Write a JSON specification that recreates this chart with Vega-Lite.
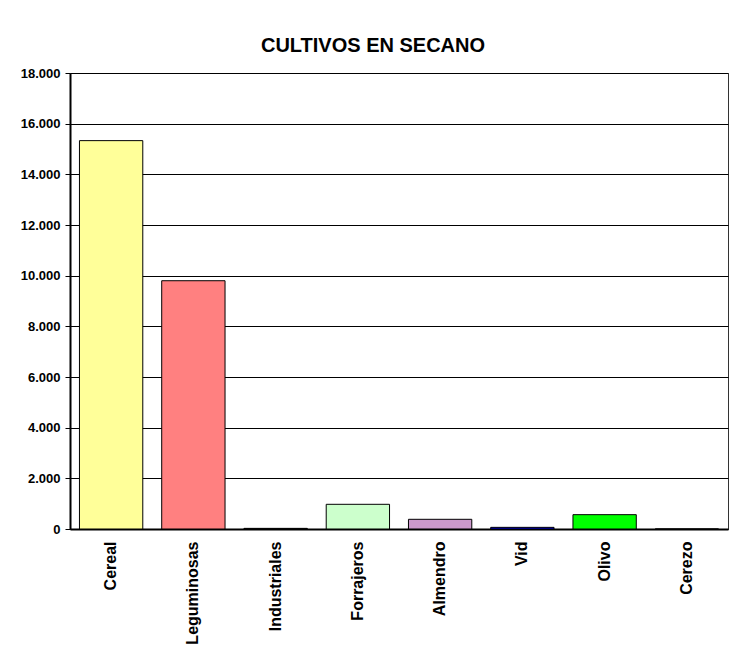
{
  "$schema": "https://vega.github.io/schema/vega-lite/v6.json",
  "width": 658,
  "height": 456,
  "autosize": {"type": "none"},
  "padding": {"left": 70, "top": 73, "right": 7, "bottom": 134},
  "background": "white",
  "title": {
    "text": "CULTIVOS EN SECANO",
    "font": "Liberation Sans",
    "fontSize": 20,
    "fontWeight": "bold",
    "color": "black",
    "anchor": "middle",
    "dx": -26,
    "offset": 11
  },
  "data": {
    "values": [
      {"cultivo": "Cereal", "superficie": 15330, "color": "#FFFF99"},
      {"cultivo": "Leguminosas", "superficie": 9800, "color": "#FF8080"},
      {"cultivo": "Industriales", "superficie": 25, "color": "#333333"},
      {"cultivo": "Forrajeros", "superficie": 975, "color": "#CCFFCC"},
      {"cultivo": "Almendro", "superficie": 383, "color": "#CC99CC"},
      {"cultivo": "Vid", "superficie": 65, "color": "#0000FF"},
      {"cultivo": "Olivo", "superficie": 566, "color": "#00FF00"},
      {"cultivo": "Cerezo", "superficie": 0, "color": "#FFFFFF"}
    ]
  },
  "mark": {"type": "bar", "stroke": "black", "strokeWidth": 1},
  "encoding": {
    "x": {
      "field": "cultivo",
      "type": "nominal",
      "sort": null,
      "scale": {"paddingInner": 0.23, "paddingOuter": 0.115},
      "axis": {
        "title": null,
        "labelAngle": -90,
        "labelFont": "Liberation Sans",
        "labelFontSize": 16,
        "labelFontWeight": "bold",
        "labelColor": "black",
        "labelPadding": 12,
        "ticks": false,
        "domainColor": "black",
        "domainWidth": 2,
        "grid": false
      }
    },
    "y": {
      "field": "superficie",
      "type": "quantitative",
      "scale": {"domain": [0, 18000], "nice": false},
      "axis": {
        "title": null,
        "values": [0, 2000, 4000, 6000, 8000, 10000, 12000, 14000, 16000, 18000],
        "labelExpr": "replace(format(datum.value, ',d'), ',', '.')",
        "labelFont": "Liberation Sans",
        "labelFontSize": 13,
        "labelFontWeight": "bold",
        "labelColor": "black",
        "labelPadding": 5,
        "tickSize": 5,
        "tickColor": "black",
        "domainColor": "black",
        "domainWidth": 2,
        "grid": true,
        "gridColor": "black",
        "gridWidth": 1,
        "gridOpacity": 1
      }
    },
    "fill": {"field": "color", "type": "nominal", "scale": null},
    "fillOpacity": {"value": 1}
  },
  "config": {
    "view": {"stroke": "#333333", "strokeWidth": 1}
  }
}
